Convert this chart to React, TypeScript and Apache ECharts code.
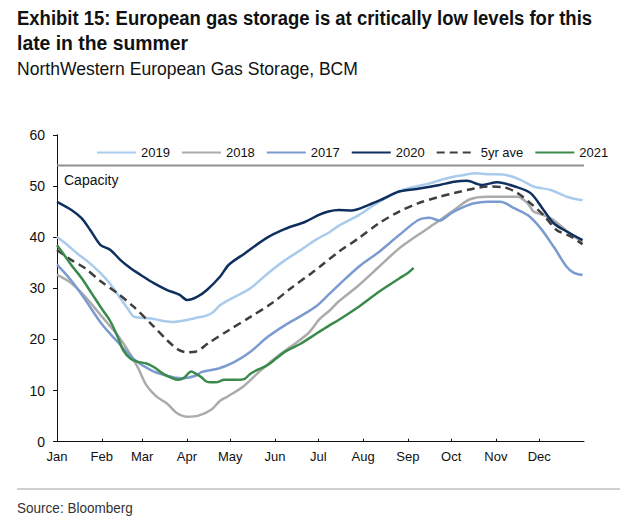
import React, { useEffect, useRef } from "react";
import * as echarts from "echarts";

// ---- Data ----
const monthLabels = ["Jan", "Feb", "Mar", "Apr", "May", "Jun", "Jul", "Aug", "Sep", "Oct", "Nov", "Dec"];
const monthStartDays = [0, 31, 59, 90, 120, 151, 181, 212, 243, 273, 304, 334];
const yearDays = 365;
const capacityLevel = 54;
const capacityLabel = "Capacity";

const days2019 = [0, 7, 14, 21, 30, 37, 44, 49, 53, 60, 67, 74, 81, 88, 96, 103, 108, 113, 123, 134, 146, 158, 169, 180, 189, 195, 209, 223, 239, 258, 270, 281, 290, 298, 310, 321, 330, 342, 353, 364];
const values2019 = [40.0, 38.5, 36.8, 35.3, 33.0, 30.8, 28.0, 26.0, 24.5, 24.2, 24.0, 23.6, 23.4, 23.7, 24.2, 24.6, 25.3, 26.7, 28.3, 30.0, 32.9, 35.5, 37.5, 39.6, 41.0, 42.2, 44.3, 46.9, 49.2, 50.5, 51.5, 52.1, 52.5, 52.3, 52.2, 51.2, 49.9, 49.2, 47.9, 47.2];

const days2018 = [0, 10, 19, 31, 42, 51, 56, 62, 69, 76, 83, 90, 98, 107, 113, 118, 129, 139, 151, 162, 174, 182, 189, 195, 209, 223, 237, 250, 262, 275, 286, 298, 310, 319, 326, 330, 337, 344, 353, 364];
const values2018 = [32.6, 31.0, 28.5, 24.5, 20.8, 17.0, 14.5, 11.0, 8.8, 7.5, 5.6, 4.9, 5.1, 6.3, 8.0, 8.8, 10.8, 13.4, 16.3, 18.6, 21.2, 24.0, 25.7, 27.4, 30.6, 34.2, 37.8, 40.4, 42.7, 45.3, 47.4, 47.9, 47.9, 47.9, 46.6, 45.0, 44.3, 43.3, 41.2, 39.0];

const days2017 = [0, 9, 19, 31, 42, 53, 65, 76, 86, 96, 100, 112, 123, 134, 146, 158, 169, 180, 189, 195, 209, 223, 237, 250, 258, 265, 273, 281, 289, 298, 307, 317, 326, 335, 344, 353, 358, 364];
const values2017 = [34.6, 31.8, 28.0, 23.0, 19.5, 16.2, 14.0, 12.9, 12.4, 12.9, 13.6, 14.3, 15.6, 17.6, 20.5, 22.8, 24.6, 26.6, 29.0, 30.6, 34.2, 37.1, 40.4, 43.3, 43.8, 43.2, 44.7, 45.8, 46.6, 46.9, 46.9, 45.6, 44.3, 41.7, 38.1, 34.2, 33.0, 32.6];

const days2020 = [0, 10, 17, 23, 30, 37, 44, 51, 58, 67, 76, 85, 90, 97, 104, 113, 119, 130, 145, 158, 172, 181, 188, 195, 204, 216, 226, 237, 251, 265, 275, 284, 294, 305, 317, 328, 337, 344, 353, 364];
const values2020 = [46.9, 45.3, 43.7, 41.4, 38.5, 37.5, 35.5, 33.9, 32.6, 31.0, 29.7, 28.7, 27.7, 28.3, 29.7, 32.3, 34.6, 36.8, 39.8, 41.6, 43.0, 44.3, 45.0, 45.3, 45.2, 46.3, 47.5, 48.9, 49.5, 50.2, 50.8, 51.0, 50.2, 50.7, 49.9, 48.6, 45.3, 42.7, 41.1, 39.4];

const days5yr = [0, 10, 19, 31, 42, 53, 65, 76, 84, 90, 96, 105, 119, 134, 149, 162, 176, 182, 195, 209, 223, 237, 250, 265, 275, 289, 298, 310, 319, 328, 337, 346, 356, 364];
const values5yr = [37.5, 35.5, 34.0, 31.2, 29.0, 26.4, 23.1, 19.9, 18.0, 17.5, 17.6, 19.3, 21.8, 24.4, 27.1, 30.0, 32.9, 34.2, 37.1, 39.8, 42.7, 45.0, 46.6, 47.9, 48.6, 49.5, 49.9, 49.7, 48.6, 46.6, 44.3, 41.4, 40.1, 38.6];

const days2021 = [0, 5, 10, 17, 24, 31, 37, 42, 46, 51, 56, 62, 67, 74, 80, 84, 88, 93, 96, 100, 104, 110, 116, 125, 130, 134, 140, 146, 152, 158, 169, 180, 189, 195, 209, 223, 237, 243, 247];
const values2021 = [38.4, 36.5, 34.5, 32.0, 29.0, 26.0, 23.5, 20.5, 17.8, 16.2, 15.6, 15.3, 14.6, 13.2, 12.4, 12.1, 12.5, 13.7, 13.3, 12.6, 11.7, 11.6, 12.1, 12.1, 12.3, 13.3, 14.2, 15.0, 16.3, 17.6, 19.2, 21.2, 22.8, 23.8, 26.4, 29.3, 31.9, 33.0, 34.0];

const legendOrder = ["2019", "2018", "2017", "2020", "5yr ave", "2021"];

const titleLine1 = "Exhibit 15: European gas storage is at critically low levels for this";
const titleLine2 = "late in the summer";
const subtitleText = "NorthWestern European Gas Storage, BCM";
const sourceText = "Source: Bloomberg";

const pairs = (xs: number[], ys: number[]) => xs.map((x, i) => [x, ys[i]]);

const FONT = "'Liberation Sans', Arial, Helvetica, sans-serif";
const TITLE_FONT = "bold 21px 'Liberation Sans', Arial, sans-serif";
const SUB_FONT = "18px 'Liberation Sans', Arial, sans-serif";
const SOURCE_FONT = "14px 'Liberation Sans', Arial, sans-serif";

function measure(text: string, font: string): number {
  const ctx = document.createElement("canvas").getContext("2d");
  if (!ctx) return 0;
  ctx.font = font;
  return ctx.measureText(text).width;
}

function condensed(text: string, font: string, x: number, y: number, targetWidth: number, fill: string) {
  const w = measure(text, font);
  const s = w > 0 ? Math.min(1, targetWidth / w) : 0.8;
  return {
    type: "text",
    x,
    y,
    scaleX: s,
    style: { text, font, fill, textAlign: "left", textVerticalAlign: "middle" },
  };
}

export default function App() {
  const ref = useRef<HTMLDivElement>(null);

  useEffect(() => {
    if (!ref.current) return;
    const chart = echarts.init(ref.current, null, { renderer: "svg" });

    const lineSeries = (name: string, data: number[][], color: string, extra: any = {}) => ({
      name,
      type: "line",
      data,
      showSymbol: false,
      symbol: "none",
      smooth: 0.3,
      lineStyle: { color, width: 2.5, ...(extra.lineStyle || {}) },
      itemStyle: { color },
      emphasis: { disabled: true },
      z: extra.z ?? 2,
    });

    chart.setOption({
      animation: false,
      backgroundColor: "#ffffff",
      grid: { left: 57, right: 46, top: 134.8, bottom: 88.3, containLabel: false },
      legend: {
        data: legendOrder,
        left: 91,
        top: 141,
        itemWidth: 39,
        itemHeight: 14,
        itemGap: 11,
        itemStyle: { opacity: 0 },
        textStyle: { fontFamily: FONT, fontSize: 13, color: "#111" },
      },
      xAxis: {
        type: "value",
        min: 0,
        max: yearDays,
        splitLine: { show: false },
        axisLine: { show: true, lineStyle: { color: "#111", width: 1 } },
        axisTick: { show: true, inside: true, length: 3, customValues: monthStartDays, lineStyle: { color: "#111" } },
        axisLabel: {
          customValues: monthStartDays,
          formatter: (v: number) => monthLabels[monthStartDays.indexOf(v)] ?? "",
          fontFamily: FONT,
          fontSize: 13,
          color: "#111",
          margin: 8,
        },
      },
      yAxis: {
        type: "value",
        min: 0,
        max: 60,
        interval: 10,
        splitLine: { show: false },
        axisLine: { show: true, lineStyle: { color: "#111", width: 1 } },
        axisTick: { show: true, inside: false, length: 4, lineStyle: { color: "#111" } },
        axisLabel: { fontFamily: FONT, fontSize: 14, color: "#111", margin: 12 },
      },
      series: [
        {
          name: capacityLabel,
          type: "line",
          data: [[0, capacityLevel], [yearDays, capacityLevel]],
          showSymbol: false,
          symbol: "none",
          lineStyle: { color: "#8f8f8f", width: 2 },
          emphasis: { disabled: true },
          z: 1,
        },
        lineSeries("2019", pairs(days2019, values2019), "#a9cbec"),
        lineSeries("2018", pairs(days2018, values2018), "#ababab"),
        lineSeries("2017", pairs(days2017, values2017), "#7b9bd0"),
        lineSeries("5yr ave", pairs(days5yr, values5yr), "#3f3f3f", { lineStyle: { type: [8, 5] }, z: 3 }),
        lineSeries("2021", pairs(days2021, values2021), "#3a8a4c", { z: 3 }),
        lineSeries("2020", pairs(days2020, values2020), "#0f2f5f", { z: 4 }),
      ],
      graphic: [
        condensed(titleLine1, TITLE_FONT, 17, 18, 576, "#111"),
        condensed(titleLine2, TITLE_FONT, 17, 43, 171, "#111"),
        condensed(subtitleText, SUB_FONT, 17, 69, 341, "#111"),
        {
          type: "text",
          x: 64,
          y: 180,
          style: { text: capacityLabel, font: `14px ${FONT}`, fill: "#111", textVerticalAlign: "middle" },
        },
        {
          type: "line",
          shape: { x1: 17, y1: 489, x2: 620, y2: 489 },
          style: { stroke: "#cfcfcf", lineWidth: 2 },
        },
        condensed(sourceText, SOURCE_FONT, 17, 508, 116, "#333"),
      ],
    });

    return () => chart.dispose();
  }, []);

  return (
    <div
      ref={ref}
      style={{ position: "absolute", left: 0, top: 0, width: 630, height: 530, background: "#fff" }}
    />
  );
}
